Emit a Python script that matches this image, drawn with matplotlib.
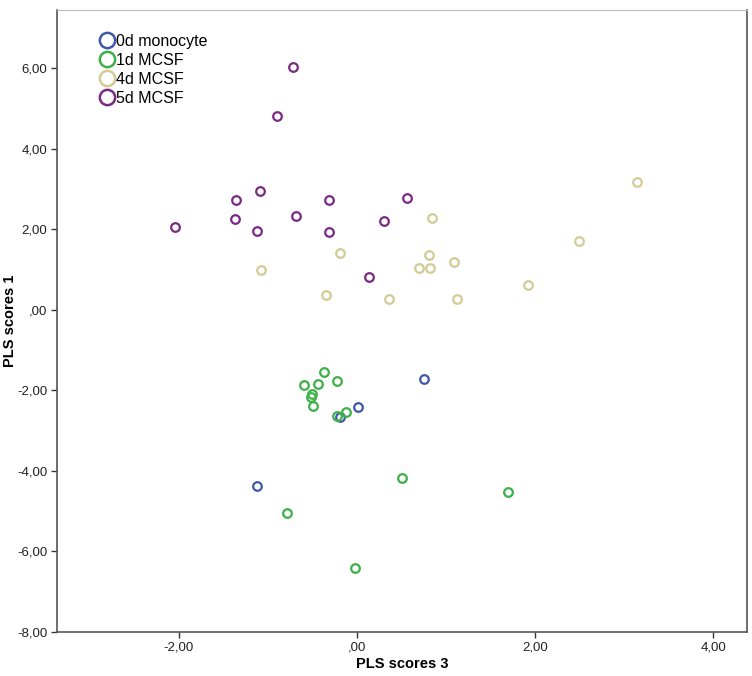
import matplotlib
matplotlib.use("Agg")
import matplotlib.pyplot as plt
from matplotlib.ticker import FuncFormatter, MultipleLocator
from matplotlib.lines import Line2D

plt.rcParams['font.family'] = ['Liberation Sans', 'DejaVu Sans']

# PLS scores 3 (x) and PLS scores 1 (y) per group
mono_x = [0.75, 0.01, -0.19, -1.12]
mono_y = [-1.72, -2.42, -2.65, -4.38]

d1_x = [-0.37, -0.60, -0.44, -0.22, -0.51, -0.52, -0.49, -0.22, -0.12, 0.51, -0.79, 1.70, -0.02]
d1_y = [-1.55, -1.87, -1.85, -1.76, -2.10, -2.17, -2.39, -2.64, -2.53, -4.18, -5.05, -4.53, -6.41]

d4_x = [-1.08, -0.19, -0.35, 0.36, 0.84, 0.81, 0.70, 0.82, 1.09, 1.12, 1.92, 2.49, 3.14]
d4_y = [0.98, 1.42, 0.37, 0.27, 2.29, 1.36, 1.03, 1.05, 1.19, 0.27, 0.62, 1.70, 3.19]

d5_x = [-0.72, -0.90, -2.04, -1.36, -1.09, -1.37, -1.12, -0.69, -0.31, -0.31, 0.30, 0.56, 0.13]
d5_y = [6.03, 4.82, 2.05, 2.73, 2.95, 2.26, 1.95, 2.33, 2.73, 1.93, 2.22, 2.77, 0.81]

groups = ["0d monocyte", "1d MCSF", "4d MCSF", "5d MCSF"]
colors = ["#3E58AC", "#3DB048", "#D2CB96", "#7A2A83"]
xs = [mono_x, d1_x, d4_x, d5_x]
ys = [mono_y, d1_y, d4_y, d5_y]

fig = plt.figure(figsize=(7.52, 6.76), dpi=100)
ax = fig.add_axes([0.0758, 0.0651, 0.9176, 0.9201])

for x, y, c in zip(xs, ys, colors):
    ax.plot(x, y, linestyle='none', marker='o', markersize=6.2,
            markerfacecolor='none', markeredgecolor=c, markeredgewidth=1.6)

ax.set_xlim(-3.37, 4.38)
ax.set_ylim(-8.0, 7.45)
ax.xaxis.set_major_locator(MultipleLocator(2))
ax.yaxis.set_major_locator(MultipleLocator(2))

def comma_fmt(v, pos):
    s = f"{v:.2f}".replace('.', ',')
    if s.startswith('0,'):
        s = s[1:]
    if s == '-0,00':
        s = ',00'
    return s

ax.xaxis.set_major_formatter(FuncFormatter(comma_fmt))
ax.yaxis.set_major_formatter(FuncFormatter(comma_fmt))
ax.tick_params(axis='both', direction='out', length=4.5, width=1, color='#333333',
               labelsize=9.5, labelcolor='#222222', top=False, right=False, pad=2.5)

for side in ['left', 'bottom', 'right']:
    ax.spines[side].set_color('#555555')
    ax.spines[side].set_linewidth(1.2)
ax.spines['top'].set_color('#bbbbbb')

ax.set_xlabel("PLS scores 3", fontsize=10.5, fontweight='bold')
ax.set_ylabel("PLS scores 1", fontsize=10.5, fontweight='bold')
ax.xaxis.set_label_coords(0.5, -0.040)
ax.yaxis.set_label_coords(-0.058, 0.5)

handles = [Line2D([], [], linestyle='none', marker='o', markersize=11,
                  markerfacecolor='none', markeredgecolor=c, markeredgewidth=1.8)
           for c in colors]
leg = ax.legend(handles, groups, loc='upper left', bbox_to_anchor=(0.052, 0.972),
                frameon=False, handletextpad=0.05, labelspacing=0.25, borderaxespad=0,
                handlelength=1.0, prop={'size': 11.5})

fig.savefig("out.png", dpi=100)
